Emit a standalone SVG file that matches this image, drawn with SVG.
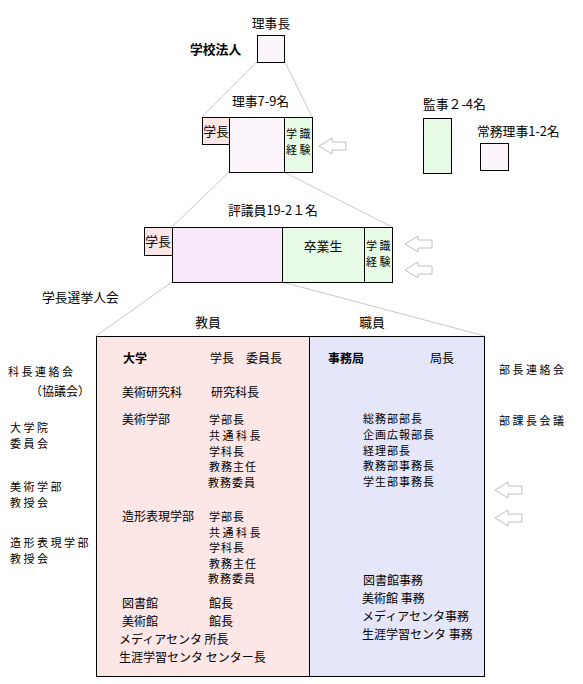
<svg xmlns="http://www.w3.org/2000/svg" width="583" height="684" viewBox="0 0 583 684">
<style>
text{font-family:"Noto Sans CJK JP","Noto Sans",sans-serif;font-size:12px;fill:#000}
.b{font-weight:bold}
.m{font-size:12.8px}
.s{font-size:11px;letter-spacing:1px}
.sw{font-size:11px;letter-spacing:2.5px}
.bx{stroke:#000;stroke-width:1}
.ln{stroke:#c8c8c8;stroke-width:1;fill:none}
.ar{fill:#fff;stroke:#c0c0c0;stroke-width:1}
.pk{fill:#fde6e6}
.lv{fill:#fcf6fc}
.gr{fill:#e6fae6}
.pu{fill:#f9e8f9}
.bl{fill:#e6e6fa}
</style>
<defs>
<path id="arr" d="M0,0 L13,-8 L13,-4 L27,-4 L27,4 L13,4 L13,8 Z"/>
</defs>
<g id="connectors">
<line class="ln" x1="257" y1="62" x2="202" y2="117"/>
<line class="ln" x1="285" y1="62" x2="312" y2="117"/>
<line class="ln" x1="229" y1="172" x2="172" y2="227"/>
<line class="ln" x1="284" y1="172" x2="392" y2="227"/>
<line class="ln" x1="172" y1="282" x2="96" y2="336"/>
<line class="ln" x1="282" y1="282" x2="485" y2="336"/>
</g>
<g id="arrows">
<use href="#arr" class="ar" x="319" y="146"/>
<use href="#arr" class="ar" x="405" y="244"/>
<use href="#arr" class="ar" x="405" y="270"/>
<use href="#arr" class="ar" x="495" y="490"/>
<use href="#arr" class="ar" x="495" y="518"/>
</g>
<g id="houjin">
<text x="190" y="54" class="b m">学校法人</text>
<text x="271" y="28" text-anchor="middle" class="m">理事長</text>
<rect class="bx lv" x="257.5" y="35.5" width="27" height="27"/>
</g>
<g id="riji">
<text x="232" y="106" class="m">理事7-9名</text>
<rect class="bx pk" x="202.5" y="117.5" width="27" height="27"/>
<text x="216" y="136" text-anchor="middle" class="m">学長</text>
<rect class="bx lv" x="229.5" y="117.5" width="55" height="55"/>
<rect class="bx gr" x="284.5" y="117.5" width="28" height="55"/>
<text class="sw"><tspan x="286" y="138">学識</tspan><tspan x="286" y="154">経験</tspan></text>
</g>
<g id="kanji">
<text x="423" y="109" class="m">監事２-4名</text>
<rect class="bx gr" x="423.5" y="118.5" width="28" height="55"/>
</g>
<g id="joumu">
<text x="477" y="136" class="m">常務理事1-2名</text>
<rect class="bx lv" x="480.5" y="143.5" width="28" height="27"/>
</g>
<g id="hyougi">
<text x="228" y="215" class="m">評議員19-2１名</text>
<rect class="bx pk" x="144.5" y="227.5" width="28" height="28"/>
<text x="158" y="246" text-anchor="middle" class="m">学長</text>
<rect class="bx pu" x="172.5" y="227.5" width="110" height="55"/>
<rect class="bx gr" x="282.5" y="227.5" width="82" height="55"/>
<text x="323" y="251" text-anchor="middle" class="m">卒業生</text>
<rect class="bx gr" x="364.5" y="227.5" width="28" height="55"/>
<text class="sw"><tspan x="366" y="250">学識</tspan><tspan x="366" y="266">経験</tspan></text>
</g>
<g id="senkyo">
<text x="42" y="302" class="m">学長選挙人会</text>
<text x="208" y="327" text-anchor="middle" class="m">教員</text>
<text x="372" y="327" text-anchor="middle" class="m">職員</text>
</g>
<g id="left-labels">
<text x="8" y="376" class="sw">科長連絡会</text>
<text x="30" y="396">（協議会）</text>
<text class="sw"><tspan x="10" y="432">大学院</tspan><tspan x="10" y="448">委員会</tspan></text>
<text class="sw"><tspan x="10" y="491">美術学部</tspan><tspan x="10" y="507">教授会</tspan></text>
<text class="sw"><tspan x="10" y="547">造形表現学部</tspan><tspan x="10" y="563">教授会</tspan></text>
</g>
<g id="right-labels">
<text x="499" y="374" class="sw">部長連絡会</text>
<text x="499" y="425" class="sw">部課長会議</text>
</g>
<g id="daigaku">
<rect class="bx pk" x="96.5" y="336.5" width="213" height="340"/>
<text x="123" y="363" class="b">大学</text>
<text x="210" y="363">学長　委員長</text>
<text x="122" y="397">美術研究科</text>
<text x="211" y="397">研究科長</text>
<text x="122" y="424">美術学部</text>
<text class="s"><tspan x="209" y="424">学部長</tspan><tspan x="209" y="440" class="sw">共通科長</tspan><tspan x="209" y="455.5">学科長</tspan><tspan x="209" y="471">教務主任</tspan><tspan x="208" y="486.5">教務委員</tspan></text>
<text x="122" y="521">造形表現学部</text>
<text class="s"><tspan x="209" y="521">学部長</tspan><tspan x="209" y="536.5" class="sw">共通科長</tspan><tspan x="209" y="552">学科長</tspan><tspan x="209" y="567.5">教務主任</tspan><tspan x="208" y="583">教務委員</tspan></text>
<text><tspan x="122" y="608">図書館</tspan><tspan x="122" y="626">美術館</tspan><tspan x="119" y="644">メディアセンタ 所長</tspan><tspan x="119" y="662">生涯学習センタ センター長</tspan></text>
<text><tspan x="209" y="608">館長</tspan><tspan x="209" y="626">館長</tspan></text>
</g>
<g id="jimukyoku">
<rect class="bx bl" x="309.5" y="336.5" width="175" height="340"/>
<text x="328" y="363" class="b">事務局</text>
<text x="430" y="363">局長</text>
<text class="s"><tspan x="363" y="423">総務部部長</tspan><tspan x="363" y="438.5">企画広報部長</tspan><tspan x="363" y="454.5">経理部長</tspan><tspan x="363" y="470">教務部事務長</tspan><tspan x="363" y="486">学生部事務長</tspan></text>
<text><tspan x="363" y="585">図書館事務</tspan><tspan x="362" y="603">美術館 事務</tspan><tspan x="362" y="621">メディアセンタ事務</tspan><tspan x="362" y="639">生涯学習センタ 事務</tspan></text>
</g>
</svg>
